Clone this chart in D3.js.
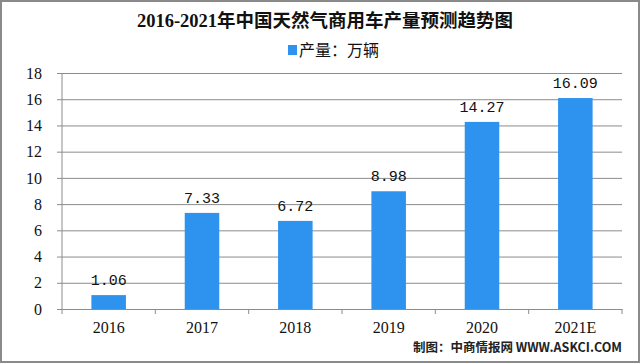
<!DOCTYPE html>
<html><head><meta charset="utf-8">
<script src="https://cdn.jsdelivr.net/npm/d3@7"></script>
<style>
html,body{margin:0;padding:0;background:#fff;}
svg{display:block;}
</style></head>
<body>
<script>
const categories = ["2016","2017","2018","2019","2020","2021E"];
const values = [1.06, 7.33, 6.72, 8.98, 14.27, 16.09];
const yTicks = [0,2,4,6,8,10,12,14,16,18];
const title = "2016-2021年中国天然气商用车产量预测趋势图";
const legendLabel = "产量：万辆";
const sourceText = "制图：中商情报网 WWW.ASKCI.COM";

const W = 640, H = 363;
const margin = {left:62, right:18, top:73, bottom:54};
const svg = d3.select("body").append("svg").attr("width", W).attr("height", H);

svg.append("rect").attr("x",1).attr("y",1).attr("width",W-2).attr("height",H-2)
  .attr("fill","#fff").attr("stroke","#8a8a8a").attr("stroke-width",2);

const x = d3.scaleBand().domain(categories).range([margin.left, W-margin.right]).paddingInner(0.63).paddingOuter(0.315);
const y = d3.scaleLinear().domain([0,18]).range([H-margin.bottom, margin.top]);

const serif = "'Liberation Serif','Noto Sans CJK SC',serif";

// grid
const yAxis = d3.axisLeft(y).tickValues(yTicks).tickSize(-(W-margin.left-margin.right)).tickPadding(20);
const gy = svg.append("g").attr("transform",`translate(${margin.left},0)`).call(yAxis);
gy.select(".domain").remove();
gy.selectAll(".tick line").attr("stroke","#8c8c8c").attr("x1",-5);
gy.selectAll(".tick text").attr("font-family",serif).attr("font-size",16).attr("fill","#111");

// y axis line
svg.append("line").attr("x1",margin.left).attr("x2",margin.left).attr("y1",y(18)).attr("y2",y(0)).attr("stroke","#8c8c8c");

// x axis
const xAxis = d3.axisBottom(x).tickSize(0).tickPadding(13);
const gx = svg.append("g").attr("transform",`translate(0,${y(0)})`).call(xAxis);
gx.select(".domain").attr("stroke","#8c8c8c");
gx.selectAll(".tick text").attr("font-family",serif).attr("font-size",16).attr("fill","#111");
// separators between categories
const step = x.step();
const seps = d3.range(categories.length+1).map(i => margin.left + i*step);
svg.append("g").selectAll("line").data(seps).join("line")
  .attr("x1",d=>d).attr("x2",d=>d).attr("y1",y(0)).attr("y2",y(0)+5).attr("stroke","#8c8c8c");

// bars
svg.append("g").selectAll("rect").data(values).join("rect")
  .attr("x",(d,i)=>x(categories[i])).attr("width",x.bandwidth())
  .attr("y",d=>y(d)).attr("height",d=>y(0)-y(d)).attr("fill","#2e93ee");

// labels
svg.append("g").selectAll("text").data(values).join("text")
  .attr("x",(d,i)=>x(categories[i])+x.bandwidth()/2).attr("y",d=>y(d)-10)
  .attr("text-anchor","middle").attr("font-family","'Liberation Mono','DejaVu Sans Mono',monospace")
  .attr("font-size",15).attr("fill","#111").text(d=>d.toFixed(2));

// title
svg.append("text").attr("x",325).attr("y",27).attr("text-anchor","middle")
  .attr("font-family",serif).attr("font-weight","bold").attr("font-size",18.5).attr("fill","#111").text(title);

// legend
svg.append("rect").attr("x",288).attr("y",45).attr("width",9).attr("height",10).attr("fill","#2e93ee");
svg.append("text").attr("x",299).attr("y",56).attr("font-family","'Noto Sans CJK SC',sans-serif")
  .attr("font-size",16).attr("fill","#111").text(legendLabel);

// source
svg.append("text").attr("x",622).attr("y",352).attr("text-anchor","end")
  .attr("font-family","'Noto Sans CJK SC',sans-serif").attr("font-size",12.5).attr("font-weight","bold").attr("fill","#222").text(sourceText);
</script>
</body></html>
